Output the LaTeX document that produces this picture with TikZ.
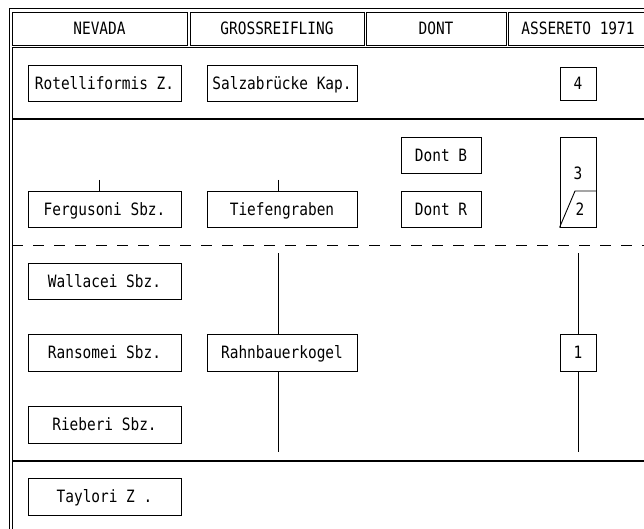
\documentclass[tikz,border=0pt]{standalone}
\usepackage{fontspec}
\newfontfamily\lgfont[FakeStretch=0.85]{DejaVu Sans Mono}
\begin{document}
\begin{tikzpicture}[x=1pt,y=-1pt,
  font=\lgfont\fontsize{17}{20}\selectfont,
  txt/.style={inner sep=0pt, text height=12.4pt, text depth=0pt},
  box/.style={draw, txt, line width=0.9pt, minimum height=36pt},
  colA/.style={box, minimum width=153pt},
  colB/.style={box, minimum width=150pt},
  colC/.style={box, minimum width=80pt},
  colD/.style={box, minimum width=36pt},
  head/.style={draw, txt, line width=0.9pt, minimum height=33pt},
  frame/.style={line width=1pt},
  region/.style={line width=1.5pt},
  link/.style={line width=0.9pt}]
\useasboundingbox (0,0) rectangle (644,529);
\clip (0,0) rectangle (644,529);
% outer frame
\draw[frame] (9,540) -- (9,9) -- (660,9);
% header cells
\node[head, minimum width=175pt] (h1) at (99.5,28.5) {NEVADA};
\node[head, minimum width=174pt] (h2) at (277,28.5) {GROSSREIFLING};
\node[head, minimum width=140pt] (h3) at (436,28.5) {DONT};
\node[head, minimum width=140pt] (h4) at (578,28.5) {ASSERETO 1971};
% regions
\draw[frame] (12,540) -- (12,48) -- (660,48);
\draw[region] (12,119) -- (660,119);
\draw[region] (12,461) -- (660,461);
\draw[line width=0.9pt, dash pattern=on 11pt off 10pt] (12,245) -- (660,245);
% row 1
\node[colA] (rot) at (104.5,83) {Rotelliformis Z.};
\node[colB] (salz) at (282,83) {Salzabrücke Kap.};
\node[colD, minimum height=33pt] (b4) at (578,83.5) {4};
% row 2
\node[colA] (ferg) at (104.5,209) {Fergusoni Sbz.};
\node[colB] (tief) at (282,209) {Tiefengraben};
\node[colC] (dontb) at (441,155) {Dont B};
\node[colC] (dontr) at (441,209) {Dont R};
\node[colD, minimum height=90pt] (b32) at (578,182) {};
\coordinate (k1) at (575,191);
\draw[link] (b32.south west) -- (k1) -- (k1 -| b32.east);
\node[txt] (n3) at (578,173) {3};
\node[txt] (n2) at (580,209) {2};
\coordinate (t1) at (99.5,180);
\coordinate (t2) at (278,180);
\draw[link] (t1) -- (t1 |- ferg.north);
\draw[link] (t2) -- (t2 |- tief.north);
% row 3
\node[colA] (wall) at (104.5,281) {Wallacei Sbz.};
\node[colA, minimum height=37pt] (rans) at (104.5,352.5) {Ransomei Sbz.};
\node[colA, minimum height=37pt] (rieb) at (104.5,424.5) {Rieberi Sbz.};
\node[colB, minimum height=37pt] (rahn) at (282,352.5) {Rahnbauerkogel};
\node[colD, minimum height=37pt] (b1) at (578,352.5) {1};
\coordinate (v1t) at (278,253);
\coordinate (v1b) at (278,452);
\coordinate (v2t) at (578,253);
\coordinate (v2b) at (578,452);
\draw[link] (v1t) -- (v1t |- rahn.north);
\draw[link] (v1b |- rahn.south) -- (v1b);
\draw[link] (v2t) -- (b1.north);
\draw[link] (b1.south) -- (v2b);
% row 4
\node[colA, minimum height=37pt] (tayl) at (104.5,496.5) {Taylori Z .};
\end{tikzpicture}
\end{document}
